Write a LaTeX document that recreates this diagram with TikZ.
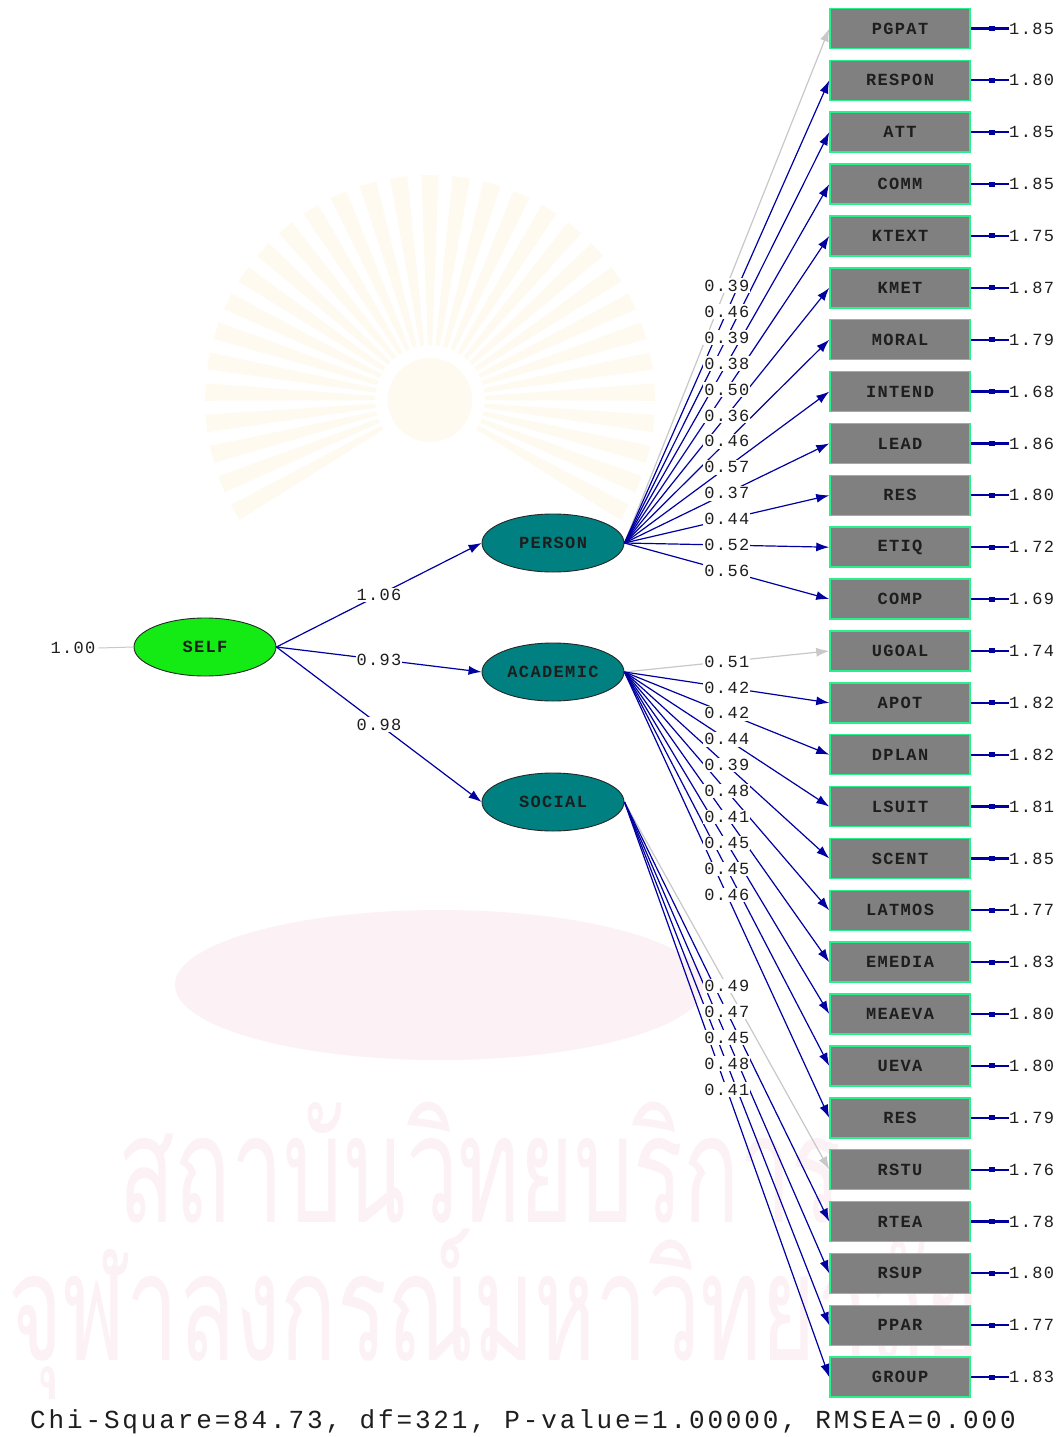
\documentclass[tikz,border=0pt]{standalone}
\usepackage{fontspec}
\usetikzlibrary{arrows.meta,shapes.geometric}
\newfontfamily\labfont[LetterSpace=8]{Liberation Mono}
\newfontfamily\bigfont[LetterSpace=11]{Liberation Mono}
\newfontfamily\thaifont[Script=Thai]{Loma}
\definecolor{lnavy}{RGB}{0,0,160}
\definecolor{lgray}{RGB}{200,200,200}
\definecolor{boxgray}{RGB}{128,128,128}
\definecolor{boxedge}{RGB}{40,240,140}
\definecolor{tealfill}{RGB}{0,128,128}
\definecolor{selfgreen}{RGB}{20,235,20}
\definecolor{raycol}{RGB}{254,250,240}
\definecolor{wmpink}{RGB}{252,241,244}
\definecolor{txt}{RGB}{30,30,30}
\tikzset{
  obsbox/.style={rectangle, draw=boxedge, line width=1.5pt, fill=boxgray,
    minimum width=140pt, minimum height=40pt, inner sep=0pt,
    font=\labfont\bfseries\fontsize{17}{17}\selectfont, text=txt},
  latent/.style={ellipse, draw=black!85, line width=0.9pt, fill=tealfill,
    minimum width=142pt, minimum height=58pt, inner sep=0pt,
    font=\labfont\bfseries\fontsize{17}{17}\selectfont, text=txt},
  coef/.style={fill=white, inner xsep=1pt, inner ysep=1.5pt,
    font=\labfont\fontsize{17}{17}\selectfont, text=txt},
  errlab/.style={anchor=west, inner sep=0pt,
    font=\labfont\fontsize{17}{17}\selectfont, text=txt},
  free/.style={draw=lnavy, line width=1.2pt, -{Latex[length=13pt,width=9pt]}},
  fixed/.style={draw=lgray, line width=1.2pt, -{Latex[length=13pt,width=9pt]}},
  errarrow/.style={draw=lnavy, line width=2.2pt},
  errmark/.style={fill=lnavy, rectangle, minimum width=6pt, minimum height=5pt, inner sep=0pt},
}
\begin{document}
\begin{tikzpicture}[x=1pt,y=-1pt]
\useasboundingbox (0,0) rectangle (1061,1437);
\fill[white] (0,0) rectangle (1061,1437);
% --- faint watermark ---
\begin{scope}[shift={(430,400)}]
  \foreach \a in {150,158,...,390} {
    \fill[raycol] (\a-2.2:55) -- (\a-2.2:225) -- (\a+2.2:225) -- (\a+2.2:55) -- cycle;
  }
  \fill[raycol] (0,0) circle (42);
\end{scope}
\fill[wmpink] (440,985) ellipse (265 and 75);
\node[anchor=base west, inner sep=0pt, text=wmpink, xscale=0.62, transform shape,
  font=\thaifont\fontsize{150}{150}\selectfont] (wm1) at (118,1222) {สถาบันวิทยบริการ};
\node[anchor=base west, inner sep=0pt, text=wmpink, xscale=0.62, transform shape,
  font=\thaifont\fontsize{150}{150}\selectfont] (wm2) at (8,1360) {จุฬาลงกรณ์มหาวิทยาลัย};
% --- observed variables ---
\foreach \n/\e [count=\i from 0] in {PGPAT/1.85, RESPON/1.80, ATT/1.85, COMM/1.85,
  KTEXT/1.75, KMET/1.87, MORAL/1.79, INTEND/1.68, LEAD/1.86, RES/1.80, ETIQ/1.72,
  COMP/1.69, UGOAL/1.74, APOT/1.82, DPLAN/1.82, LSUIT/1.81, SCENT/1.85, LATMOS/1.77,
  EMEDIA/1.83, MEAEVA/1.80, UEVA/1.80, RES/1.79, RSTU/1.76, RTEA/1.78, RSUP/1.80,
  PPAR/1.77, GROUP/1.83} {
  \pgfmathsetmacro\yy{28.5+51.87*\i}
  \node[obsbox] (b\i) at (900,\yy) {\n};
  \node[errlab] (e\i) at (1009,\yy) {\e};
  \draw[errarrow] (e\i.west) -- node[pos=0.45, errmark] {} (b\i.east);
}
% --- latent variables ---
\node[latent, fill=selfgreen] (SELF) at (205,647) {SELF};
\node[latent] (PERSON) at (553,543) {PERSON};
\node[latent] (ACADEMIC) at (553,672) {ACADEMIC};
\node[latent] (SOCIAL) at (553,802) {SOCIAL};
\node[inner sep=0pt, font=\labfont\fontsize{17}{17}\selectfont, text=txt] (var) at (73,648) {1.00};
\draw[lgray, line width=1pt] (var.east) ++(3,0) -- (SELF.west);
% --- structural paths ---
\draw[free] (SELF.east) -- coordinate[pos=0.5] (s1) (PERSON.west);
\draw[free] (SELF.east) -- coordinate[pos=0.5] (s2) (ACADEMIC.west);
\draw[free] (SELF.east) -- coordinate[pos=0.5] (s3) (SOCIAL.west);
% --- loadings ---
\foreach \v [count=\k from 0] in {0.39,0.46,0.39,0.38,0.50,0.36,0.46,0.57,0.37,0.44,0.52,0.56} {
  \ifnum\k=0 \def\st{fixed}\else\def\st{free}\fi
  \draw[\st] (PERSON.east) -- coordinate[pos=0.5] (p\k) (b\k.west);
}
\foreach \v [count=\k from 12] in {0.51,0.42,0.42,0.44,0.39,0.48,0.41,0.45,0.45,0.46} {
  \ifnum\k=12 \def\st{fixed}\else\def\st{free}\fi
  \draw[\st] (ACADEMIC.east) -- coordinate[pos=0.5] (p\k) (b\k.west);
}
\foreach \v [count=\k from 22] in {0.49,0.47,0.45,0.48,0.41} {
  \ifnum\k=22 \def\st{fixed}\else\def\st{free}\fi
  \draw[\st] (SOCIAL.east) -- coordinate[pos=0.5] (p\k) (b\k.west);
}
% --- labels on top ---
\node[coef] at (s1) {1.06};
\node[coef] at (s2) {0.93};
\node[coef] at (s3) {0.98};
\foreach \v [count=\k from 0] in {0.39,0.46,0.39,0.38,0.50,0.36,0.46,0.57,0.37,0.44,0.52,0.56,
  0.51,0.42,0.42,0.44,0.39,0.48,0.41,0.45,0.45,0.46,0.49,0.47,0.45,0.48,0.41} {
  \node[coef] (l\k) at (p\k) {\v};
}
% --- fit statistics ---
\node[anchor=west, inner sep=0pt, font=\bigfont\fontsize{26}{26}\selectfont, text=txt] (fit) at (30,1422)
  {Chi-Square=84.73, df=321, P-value=1.00000, RMSEA=0.000};
\end{tikzpicture}
\end{document}
